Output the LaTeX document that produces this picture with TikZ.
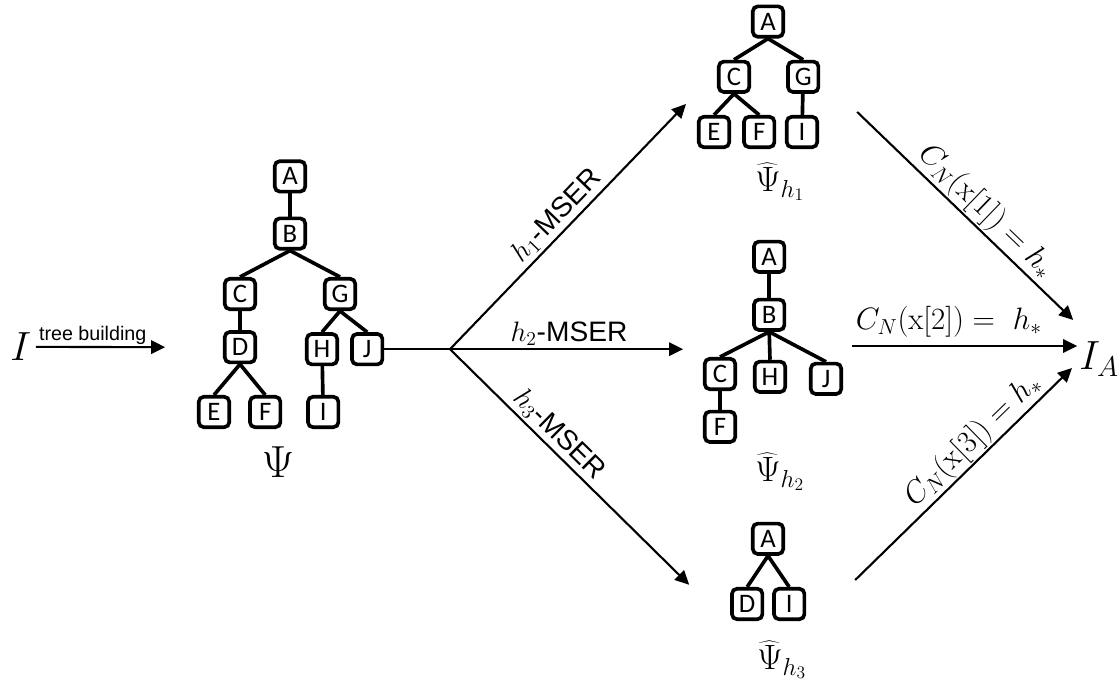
\RequirePackage{fix-cm}
\documentclass[tikz,border=0pt]{standalone}
\usepackage{fontspec}
\newfontfamily\boxfont{Carlito}
\newfontfamily\lblfont{Liberation Sans}
\usetikzlibrary{arrows.meta}

\begin{document}
\begin{tikzpicture}[
  box/.style={draw, line width=2.6pt, rounded corners=3.5pt, minimum size=0.76cm, inner sep=0pt, font=\boxfont\fontsize{19}{21}\selectfont},
  link/.style={line width=2.6pt},
  flow/.style={line width=1.5pt, -{Triangle[length=10pt,width=9.5pt]}},
  tag/.style={font=\fontsize{22}{26}\selectfont},
  hat/.style={font=\fontsize{25}{30}\selectfont},
  mser/.style={font=\lblfont\fontsize{20}{24}\selectfont}
]
\useasboundingbox (0,0) rectangle (27.975,17.1);

\node [anchor=base west, inner sep=3pt, font=\fontsize{29}{34}\selectfont] (in) at (0.15,8.08) {$I$};
\coordinate (tb) at (4.13,8.42);
\draw [flow] (in.east) -- (tb) node [pos=0.44, above, inner sep=1pt, font=\lblfont\fontsize{14}{16}\selectfont] {tree building};

\node [box] (pA) at (7.25,12.69) {A};
\node [box] (pB) at (7.25,11.26) {B};
\node [box] (pC) at (6.00,9.75) {C};
\node [box] (pG) at (8.50,9.75) {G};
\node [box] (pD) at (6.00,8.42) {D};
\node [box] (pH) at (8.05,8.37) {H};
\node [box] (pJ) at (9.18,8.37) {J};
\node [box] (pE) at (5.35,6.80) {E};
\node [box] (pF) at (6.63,6.80) {F};
\node [box] (pI) at (8.08,6.80) {I};
\draw [link] (pA) -- (pB);
\draw [link] (pB.south) -- (pC.north);
\draw [link] (pB.south) -- (pG.north);
\draw [link] (pC) -- (pD);
\draw [link] (pD.south) -- (pE.north);
\draw [link] (pD.south) -- (pF.north);
\draw [link] (pG.south) -- (pH.north);
\draw [link] (pG.south) -- (pJ.north);
\draw [link] (pH) -- (pI);
\node [font=\fontsize{32}{36}\selectfont] (psi) at (6.95,5.55) {$\Psi$};

\coordinate (split) at (11.25,8.37);
\coordinate (h1tip) at (17.15,14.50);
\coordinate (h2tip) at (17.08,8.37);
\coordinate (h3tip) at (17.23,2.48);
\draw [line width=1.5pt] (pJ.east) -- (split);
\draw [flow] (split) -- (h1tip) node [pos=0.5, sloped, above, inner sep=2pt, mser] {$h_1$-MSER};
\draw [flow] (split) -- (h2tip) node [pos=0.51, above, inner sep=2pt, mser] {$h_2$-MSER};
\draw [flow] (split) -- (h3tip) node [pos=0.41, sloped, above, inner sep=2pt, mser] {$h_3$-MSER};

\node [box] (qA) at (19.20,16.56) {A};
\node [box] (qC) at (18.35,15.18) {C};
\node [box] (qG) at (20.08,15.18) {G};
\node [box] (qE) at (17.85,13.80) {E};
\node [box] (qF) at (18.98,13.80) {F};
\node [box] (qI) at (20.05,13.80) {I};
\draw [link] (qA.south) -- (qC.north);
\draw [link] (qA.south) -- (qG.north);
\draw [link] (qC.south) -- (qE.north);
\draw [link] (qC.south) -- (qF.north);
\draw [link] (qG) -- (qI);
\node [hat] (psi1) at (19.50,12.55) {$\widehat{\Psi}_{h_1}$};

\node [box] (rA) at (19.23,10.68) {A};
\node [box] (rB) at (19.23,9.23) {B};
\node [box] (rC) at (18.00,7.75) {C};
\node [box] (rH) at (19.25,7.68) {H};
\node [box] (rJ) at (20.65,7.63) {J};
\node [box] (rF) at (18.00,6.43) {F};
\draw [link] (rA) -- (rB);
\draw [link] (rB.south) -- (rC.north);
\draw [link] (rB.south) -- (rH.north);
\draw [link] (rB.south) -- (rJ.north);
\draw [link] (rC) -- (rF);
\node [hat] (psi2) at (19.50,5.30) {$\widehat{\Psi}_{h_2}$};

\node [box] (sA) at (19.20,3.63) {A};
\node [box] (sD) at (18.68,2.00) {D};
\node [box] (sI) at (19.73,2.00) {I};
\draw [link] (sA.south) -- (sD.north);
\draw [link] (sA.south) -- (sI.north);
\node [hat] (psi3) at (19.55,0.60) {$\widehat{\Psi}_{h_3}$};

\node [anchor=base west, inner sep=0pt, font=\fontsize{29}{34}\selectfont] (ia) at (26.98,7.85) {$I_A$};
\coordinate (r1s) at (21.43,14.30);
\coordinate (r1e) at (26.83,9.10);
\coordinate (r2s) at (21.30,8.45);
\coordinate (r2e) at (26.93,8.45);
\coordinate (r3s) at (21.38,2.60);
\coordinate (r3e) at (26.80,7.90);
\draw [flow] (r1s) -- (r1e) node [pos=0.54, sloped, above, inner sep=1pt, tag] {$C_N(\mathrm{x}[1]) = h_*$};
\draw [flow] (r2s) -- (r2e) node [pos=0.43, above=2pt, tag] {$C_N(\mathrm{x}[2]) =\ h_*$};
\draw [flow] (r3s) -- (r3e) node [pos=0.6, sloped, above, inner sep=1pt, tag] {$C_N(\mathrm{x}[3]) = h_*$};
\end{tikzpicture}
\end{document}
